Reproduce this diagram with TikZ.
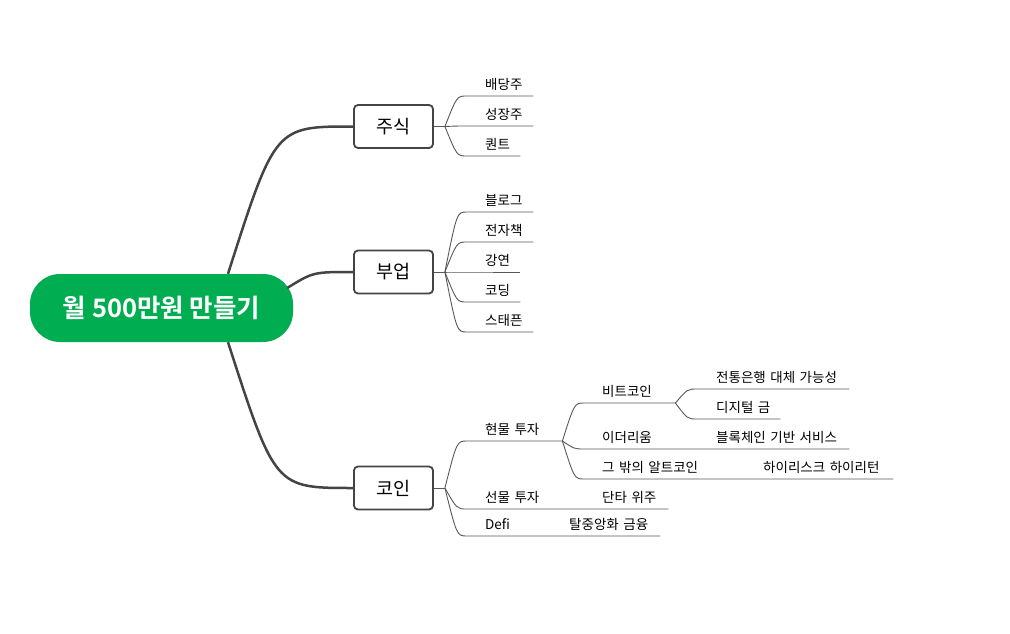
\documentclass[tikz,border=0pt]{standalone}
\usepackage{fontspec}
\setmainfont{Noto Sans CJK KR}[BoldFont={Noto Sans CJK KR Bold}]
\usetikzlibrary{calc}
\definecolor{mmgreen}{RGB}{0,173,80}
\definecolor{mmline}{RGB}{68,68,68}
\definecolor{mmthin}{RGB}{88,88,88}
\tikzset{
  root/.style={fill=mmgreen, text=white, rounded corners=30pt, minimum width=263pt, minimum height=68pt, inner sep=0pt, font=\fontsize{25.5}{30}\selectfont\bfseries},
  topic/.style={draw=mmline, fill=white, line width=1.8pt, rounded corners=4pt, minimum width=79pt, minimum height=43pt, inner sep=0pt, font=\fontsize{18.5}{22}\selectfont},
  mainlink/.style={draw=mmline, line width=2.5pt},
  twig/.style={draw=mmthin, line width=0.9pt},
  leaf/.style={anchor=south west, inner xsep=0pt, inner ysep=4pt, text height=10.5pt, text depth=2pt, font=\fontsize{13.5}{16}\selectfont, text width=#1, align=left}
}
\newcommand\mmbranch[2]{\draw[twig] (#1) .. controls ($(#1 |- #2.south)+(12,0)$) .. ($(#1 |- #2.south)+(22,0)$) -- (#2.south east);}
\newcommand\mmchain[3]{\draw[twig] (#1) .. controls ($(#1 |- #2.south)+(12,0)$) .. ($(#1 |- #2.south)+(22,0)$) -- (#2.south east) -- (#3.south east);}
\begin{document}
\begin{tikzpicture}[x=1pt,y=-1pt]
\useasboundingbox[fill=white] (0,0) rectangle (1010,634);

\coordinate (rootc) at (161.5,308);
\coordinate (stockc) at (393.5,126.5);
\coordinate (sidec) at (393.5,272);
\coordinate (coinc) at (393.5,488);

\node[topic] (stock) at (stockc) {주식};
\node[topic] (side) at (sidec) {부업};
\node[topic] (coin) at (coinc) {코인};
\node[root] (root) at (rootc) {월 500만원 만들기};

\draw[mainlink] ([xshift=66.5pt]root.north) .. controls ($(stock.west)+(-78,0)$) .. (stock.west);
\draw[mainlink] ([shift={(-6,-20)}]root.east) .. controls ($(side.west)+(-40,0)$) .. (side.west);
\draw[mainlink] ([xshift=66.5pt]root.south) .. controls ($(coin.west)+(-78,0)$) .. (coin.west);

% forks
\coordinate (F1) at ($(stock.east)+(11,0)$);
\coordinate (F2) at ($(side.east)+(11,0)$);
\coordinate (F3) at ($(coin.east)+(11,0)$);
\draw[twig] (stock.east) -- (F1);
\draw[twig] (side.east) -- (F2);
\draw[twig] (coin.east) -- (F3);

% 주식
\node[leaf=48pt] (n11) at (485,96) {배당주};
\node[leaf=48pt] (n12) at (485,126) {성장주};
\node[leaf=35pt] (n13) at (485,156) {퀀트};
\mmbranch{F1}{n11}
\mmbranch{F1}{n12}
\mmbranch{F1}{n13}

% 부업
\node[leaf=48pt] (n21) at (485,212) {블로그};
\node[leaf=48pt] (n22) at (485,242) {전자책};
\node[leaf=35pt] (n23) at (485,272) {강연};
\node[leaf=35pt] (n24) at (485,302) {코딩};
\node[leaf=48pt] (n25) at (485,332) {스태픈};
\mmbranch{F2}{n21}
\mmbranch{F2}{n22}
\mmbranch{F2}{n23}
\mmbranch{F2}{n24}
\mmbranch{F2}{n25}

% 코인
\node[leaf=77pt] (n31) at (485,441) {현물 투자};
\node[leaf=97pt] (n32) at (485,509) {선물 투자};
\node[leaf=66pt] (n32a) at (602,509) {단타 위주};
\node[leaf=64pt] (n33) at (485,536) {Defi};
\node[leaf=91pt] (n33a) at (569,536) {탈중앙화 금융};
\mmbranch{F3}{n31}
\mmchain{F3}{n32}{n32a}
\mmchain{F3}{n33}{n33a}

% 현물 투자
\coordinate (F4) at (n31.south east);
\node[leaf=73pt] (n41) at (602,403) {비트코인};
\node[leaf=93pt] (n42) at (602,449) {이더리움};
\node[leaf=133pt] (n42a) at (716,449) {블록체인 기반 서비스};
\node[leaf=140pt] (n43) at (602,479) {그 밖의 알트코인};
\node[leaf=130pt] (n43a) at (763,479) {하이리스크 하이리턴};
\mmbranch{F4}{n41}
\mmchain{F4}{n42}{n42a}
\mmchain{F4}{n43}{n43a}

% 비트코인
\coordinate (F5) at (n41.south east);
\node[leaf=133pt] (n51) at (716,389) {전통은행 대체 가능성};
\node[leaf=64pt] (n52) at (716,419) {디지털 금};
\mmbranch{F5}{n51}
\mmbranch{F5}{n52}
\end{tikzpicture}
\end{document}
